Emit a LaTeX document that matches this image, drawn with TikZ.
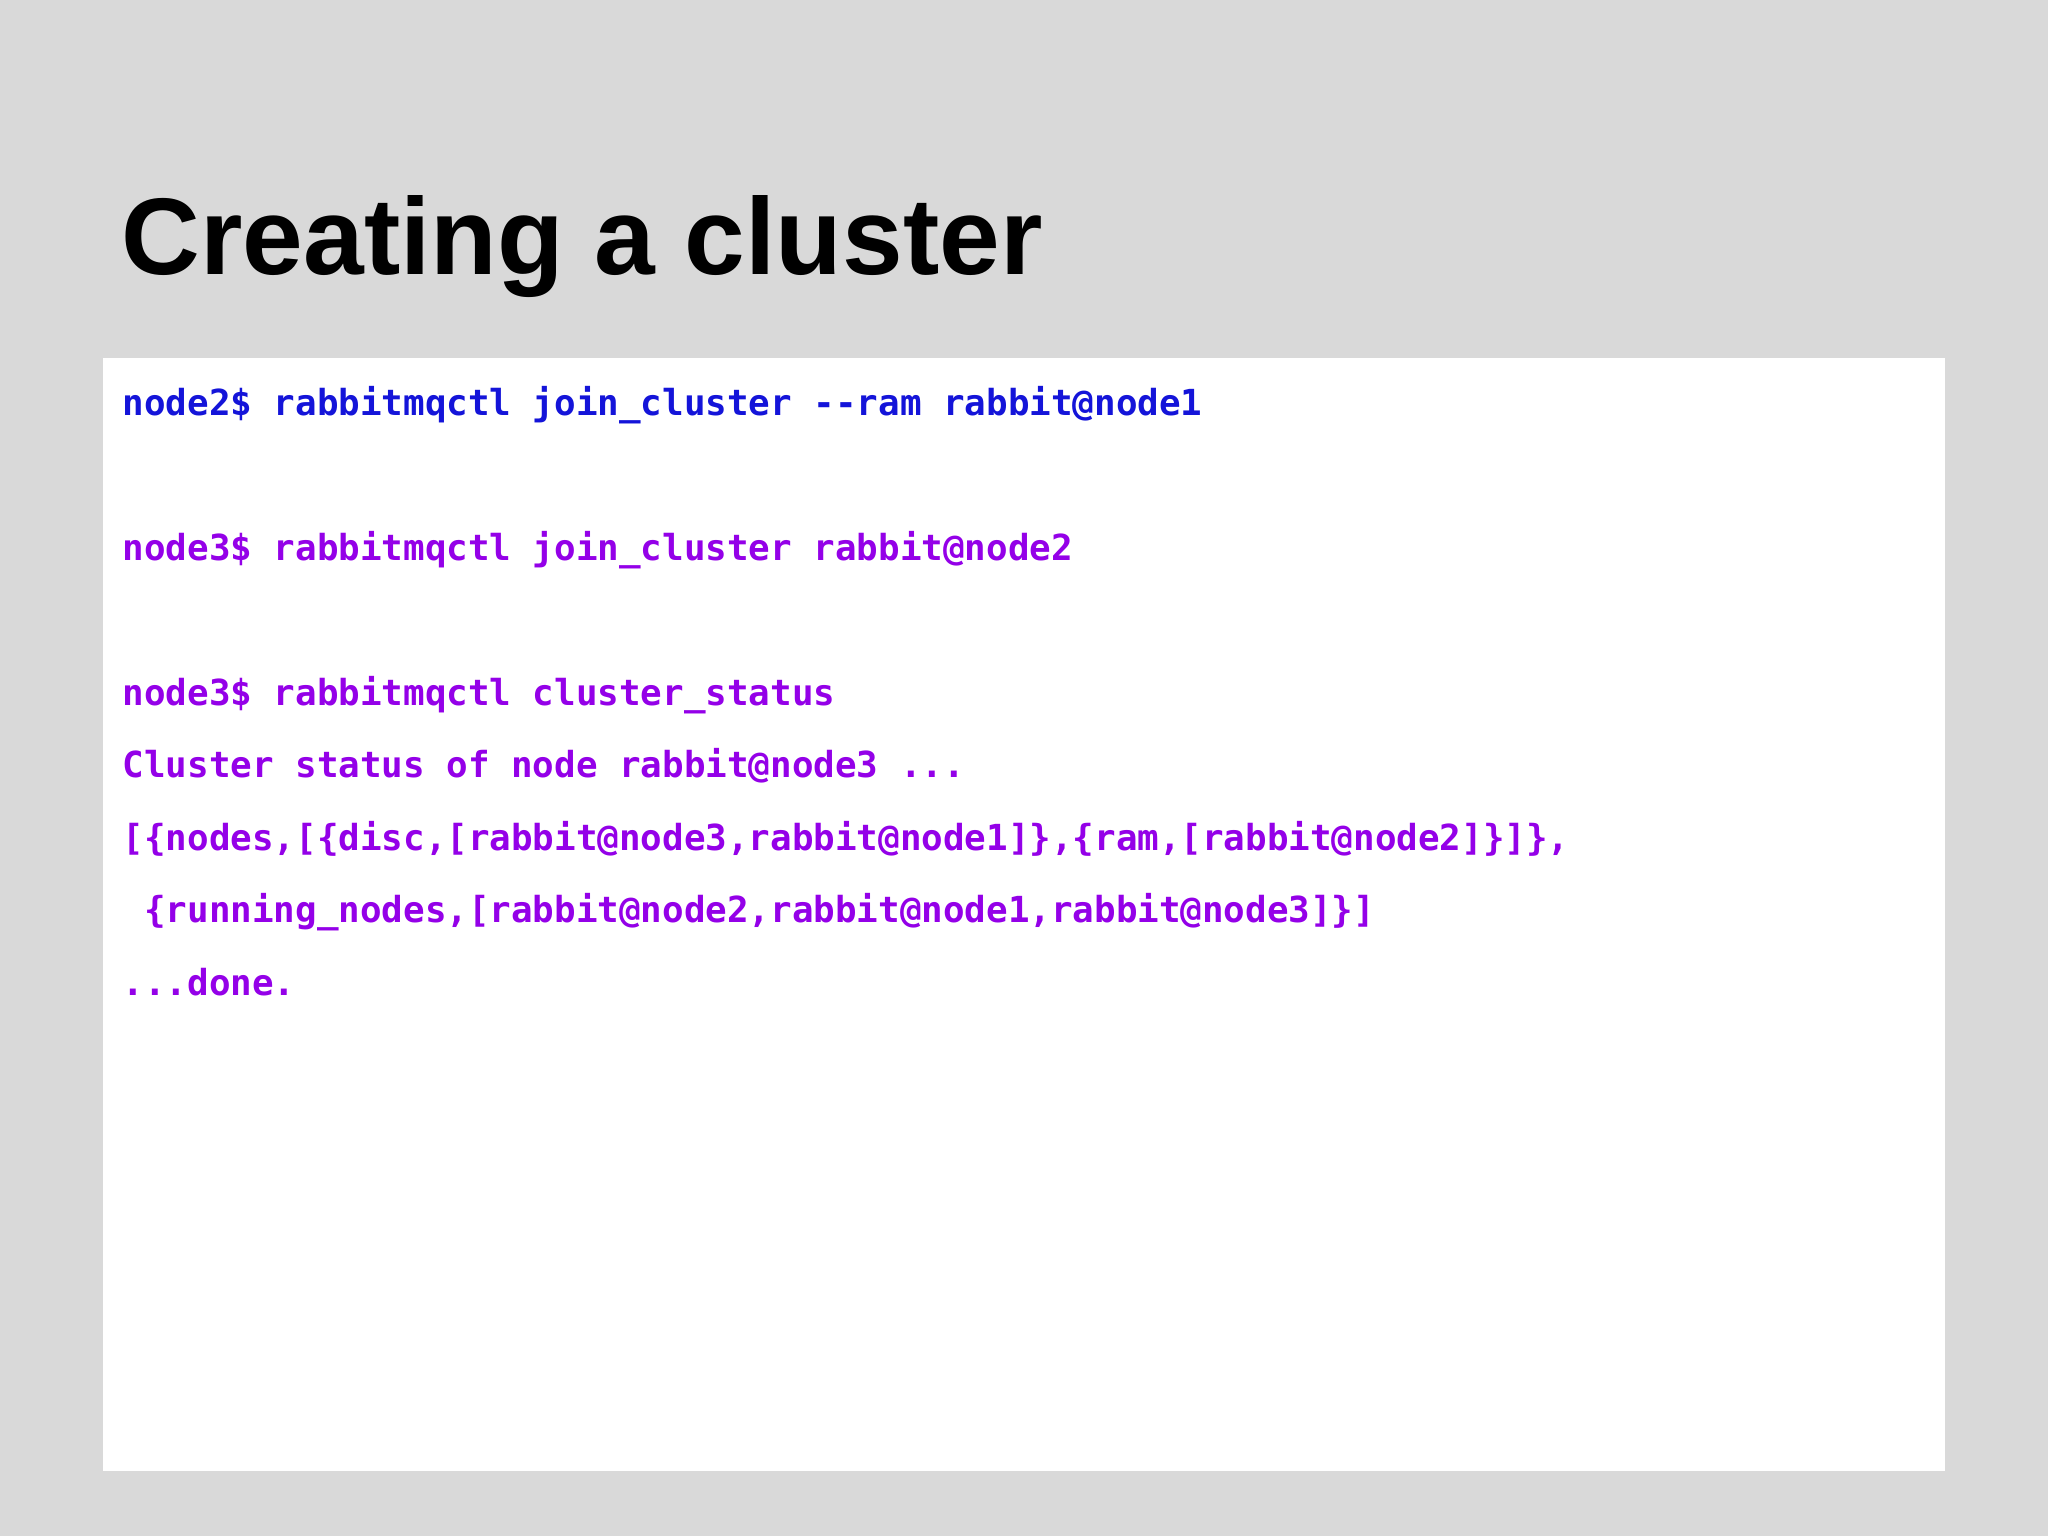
\documentclass[tikz,border=0pt]{standalone}
\usepackage{fontspec}
\setmainfont{Liberation Sans}
\newfontfamily\codefont{DejaVu Sans Mono}
\definecolor{bg}{HTML}{D9D9D9}
\definecolor{cblue}{HTML}{1414D9}
\definecolor{cpurp}{HTML}{9400E8}
\begin{document}
\begin{tikzpicture}[x=0.01cm,y=-0.01cm,
  code/.style={anchor=base west,inner sep=0pt,font=\codefont\bfseries\fontsize{10.2pt}{12pt}\selectfont,text=cpurp}]
\fill[bg] (0,0) rectangle (2048,1536);
\useasboundingbox (0,0) rectangle (2048,1536);
\fill[white] (103,358) rectangle (1945,1471);
\node[anchor=base west,inner sep=0pt,font=\bfseries\fontsize{31pt}{36pt}\selectfont] (title) at (121,274) {Creating a cluster};
\node[code,text=cblue] (l1) at (122,415) {node2\$ rabbitmqctl join\_cluster --ram rabbit@node1};
\node[code] (l2) at (122,560) {node3\$ rabbitmqctl join\_cluster rabbit@node2};
\node[code] (l3) at (122,705) {node3\$ rabbitmqctl cluster\_status};
\node[code] (l4) at (122,777) {Cluster status of node rabbit@node3 ...};
\node[code] (l5) at (122,850) {[\{nodes,[\{disc,[rabbit@node3,rabbit@node1]\},\{ram,[rabbit@node2]\}]\},};
\node[code] (l6) at (122,922) {\ \{running\_nodes,[rabbit@node2,rabbit@node1,rabbit@node3]\}]};
\node[code] (l7) at (122,995) {...done.};
\end{tikzpicture}
\end{document}
